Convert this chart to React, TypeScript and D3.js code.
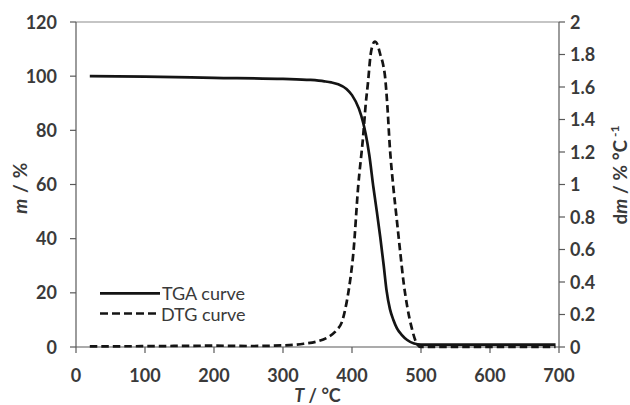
import React from "react";
import * as d3 from "d3";

const tgaT = [20, 100, 200, 300, 340, 360, 370, 380, 392, 400, 410, 416, 420, 425, 431, 436, 441, 446, 450, 455, 460, 465, 472, 480, 490, 500, 600, 695];
const tgaM = [100, 99.8, 99.4, 99.0, 98.6, 98.1, 97.7, 97.0, 95.3, 93, 88, 83, 78.5, 71, 59, 50, 40.5, 30, 21, 14, 10, 7, 4.5, 2.6, 1.3, 0.9, 0.9, 0.9];

const dtgT = [20, 100, 200, 250, 300, 330, 350, 365, 378, 385, 392, 397, 402, 409, 416, 420, 423, 427, 430, 433, 437, 441, 445, 448, 451, 455, 460, 465, 470, 475, 480, 487, 494, 500, 600, 695];
const dtgV = [0.004, 0.005, 0.008, 0.006, 0.01, 0.02, 0.035, 0.06, 0.105, 0.15, 0.27, 0.4, 0.58, 0.99, 1.29, 1.5, 1.62, 1.8, 1.86, 1.88, 1.86, 1.8, 1.74, 1.66, 1.5, 1.22, 0.98, 0.78, 0.58, 0.39, 0.25, 0.11, 0.02, 0.0, 0.0, 0.0];

const xTicks = [0, 100, 200, 300, 400, 500, 600, 700];
const leftTicks = [0, 20, 40, 60, 80, 100, 120];
const rightTicks = [0, 0.2, 0.4, 0.6, 0.8, 1, 1.2, 1.4, 1.6, 1.8, 2];
const legendLabels = ["TGA curve", "DTG curve"];

const W = 630;
const H = 405;
const PL = 76, PR = 559, PT = 22, PB = 347;
const FONT = "Lato, 'Open Sans', sans-serif";
const TXT = "#3a3a3a";
const AX = "#595959";
const LINE = "#141414";
const TICK_FS = 18;
const TITLE_FS = 19;

export default function App() {
  const x = d3.scaleLinear().domain([0, 700]).range([PL, PR]);
  const yL = d3.scaleLinear().domain([0, 120]).range([PB, PT]);
  const yR = d3.scaleLinear().domain([0, 2]).range([PB, PT]);

  const tgaLine = d3.line<number>()
    .x((_, i) => x(tgaT[i]))
    .y((d) => yL(d))
    .curve(d3.curveMonotoneX);
  const dtgLine = d3.line<number>()
    .x((_, i) => x(dtgT[i]))
    .y((d) => yR(d))
    .curve(d3.curveMonotoneX);

  return (
    <svg width={W} height={H} style={{ position: "absolute", left: 0, top: 0, background: "#fff" }} fontFamily={FONT}>
      <rect x={0} y={0} width={W} height={H} fill="#fff" />
      {/* frame */}
      <line x1={PL} x2={PR} y1={PT} y2={PT} stroke="#8c8c8c" strokeWidth={1.2} />
      <line x1={PL} x2={PL} y1={PT} y2={PB} stroke={AX} strokeWidth={1.2} />
      <line x1={PR} x2={PR} y1={PT} y2={PB} stroke={AX} strokeWidth={1.2} />
      <line x1={PL} x2={PR} y1={PB} y2={PB} stroke={AX} strokeWidth={1.2} />

      {/* x ticks */}
      {xTicks.map((t) => (
        <g key={"x" + t}>
          <line x1={x(t)} x2={x(t)} y1={PB} y2={PB + 6} stroke={AX} strokeWidth={1.2} />
          <text x={x(t)} y={381.5} textAnchor="middle" fontSize={TICK_FS} fontWeight={700} fill={TXT}>{t}</text>
        </g>
      ))}
      {/* left ticks */}
      {leftTicks.map((t) => (
        <g key={"l" + t}>
          <line x1={PL - 6} x2={PL} y1={yL(t)} y2={yL(t)} stroke={AX} strokeWidth={1.2} />
          <text x={57} y={yL(t) + 6.5} textAnchor="end" fontSize={TICK_FS} fontWeight={700} fill={TXT}>{t}</text>
        </g>
      ))}
      {/* right ticks */}
      {rightTicks.map((t) => (
        <g key={"r" + t}>
          <line x1={PR} x2={PR + 6} y1={yR(t)} y2={yR(t)} stroke={AX} strokeWidth={1.2} />
          <text x={570} y={yR(t) + 6.5} textAnchor="start" fontSize={TICK_FS} fontWeight={700} fill={TXT}>{String(t)}</text>
        </g>
      ))}

      {/* axis titles */}
      <text transform="translate(27,188) rotate(-90)" textAnchor="middle" fontSize={TITLE_FS} fontWeight={700} fill={TXT} letterSpacing={0.6}>
        <tspan fontStyle="italic">m</tspan> / %
      </text>
      <text transform="translate(627,175) rotate(-90)" textAnchor="middle" fontSize={TITLE_FS} fontWeight={700} fill={TXT}>
        d<tspan fontStyle="italic">m</tspan> / % °C<tspan fontSize={12} dy={-8}> -1</tspan>
      </text>
      <text x={317.5} y={401.5} textAnchor="middle" fontSize={18} fontWeight={700} fill={TXT}>
        <tspan fontStyle="italic">T</tspan> / °C
      </text>

      {/* curves */}
      <path d={dtgLine(dtgV) || ""} fill="none" stroke={LINE} strokeWidth={2.7} strokeDasharray="7.5,4" />
      <path d={tgaLine(tgaM) || ""} fill="none" stroke={LINE} strokeWidth={2.7} />

      {/* legend */}
      <line x1={100} x2={160} y1={293.3} y2={293.3} stroke={LINE} strokeWidth={2.7} />
      <text x={162} y={300} fontSize={18} fill={TXT}>{legendLabels[0]}</text>
      <line x1={100} x2={160} y1={313.5} y2={313.5} stroke={LINE} strokeWidth={2.7} strokeDasharray="8,4" />
      <text x={161} y={320.5} fontSize={18} fill={TXT}>{legendLabels[1]}</text>
    </svg>
  );
}
